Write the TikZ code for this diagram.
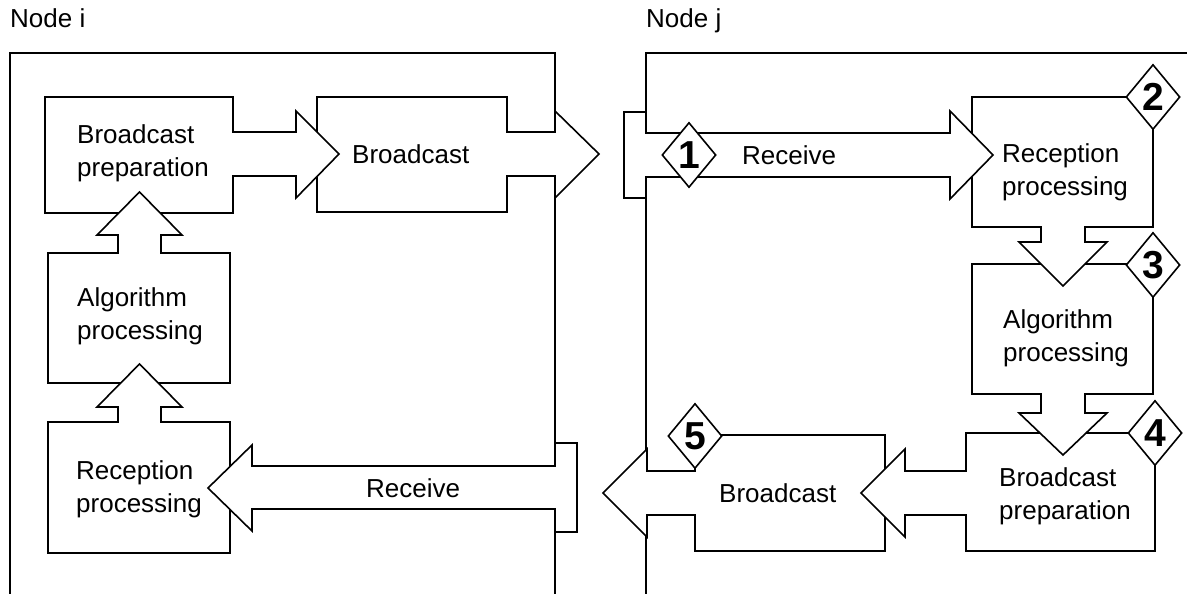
\documentclass[tikz,border=0pt]{standalone}
\usepackage{fontspec}
\setmainfont{Liberation Sans}
\usetikzlibrary{positioning,shapes.geometric}

\begin{document}
\begin{tikzpicture}[x=1pt, y=-1pt,
  frm/.style={line width=1.6pt},
  blk/.style={draw, fill=white, line width=1.6pt},
  lbl/.style={font=\fontsize{26}{33}\selectfont, align=left, inner sep=0pt, anchor=west},
  num/.style={diamond, draw, fill=white, line width=1.6pt, inner sep=0pt, minimum width=54pt, minimum height=65pt, font=\fontsize{39}{39}\selectfont\bfseries},]
\useasboundingbox (0,0) rectangle (1187,594);

%% Node i
\node[lbl, anchor=base west] (nodei) at (10,28) {Node i};
\draw[frm] (10,594) -- (10,53) -- (555,53) -- (555,594);
% broadcast
\draw[blk] (317,97) -- (507,97) -- (507,132) -- (555,132) -- (555,111) -- (599,154) -- (555,198) -- (555,176) -- (507,176) -- (507,212) -- (317,212) -- cycle;
% broadcast preparation
\draw[blk] (45,97) -- (233,97) -- (233,132) -- (296,132) -- (296,111) -- (339,154) -- (296,198) -- (296,176) -- (233,176) -- (233,213) -- (45,213) -- cycle;
% algorithm processing
\draw[blk] (48,383) -- (48,253) -- (118,253) -- (118,235) -- (97,235) -- (139.5,192) -- (182,235) -- (161,235) -- (161,253) -- (230,253) -- (230,383) -- cycle;
% reception processing
\draw[blk] (48,553) -- (48,422) -- (118,422) -- (118,407) -- (97,407) -- (139.5,364) -- (182,407) -- (161,407) -- (161,422) -- (230,422) -- (230,553) -- cycle;
% receive
\draw[blk] (577,443) -- (555,443) -- (555,466) -- (252,466) -- (252,445) -- (208,488) -- (252,531) -- (252,509) -- (555,509) -- (555,532) -- (577,532) -- cycle;

\node[lbl] (bpi)  at (77,153)  {Broadcast\\preparation};
\node[lbl] (bci)  at (352,154) {Broadcast};
\node[lbl] (algi) at (77,316)  {Algorithm\\processing};
\node[lbl] (reci) at (76,489)  {Reception\\processing};
\node[lbl] (rcvi) at (366,488) {Receive};

%% Node j
\node[lbl, anchor=base west] (nodej) at (646,28) {Node j};
\draw[frm] (646,594) -- (646,53) -- (1187,53);
% broadcast
\draw[blk] (695,435) -- (885,435) -- (885,551) -- (695,551) -- (695,515) -- (647,515) -- (647,537) -- (603,493) -- (647,449) -- (647,471) -- (695,471) -- cycle;
% broadcast preparation
\draw[blk] (966,433) -- (1155,433) -- (1155,551) -- (966,551) -- (966,515) -- (905,515) -- (905,537) -- (861,493) -- (905,449) -- (905,471) -- (966,471) -- cycle;
% algorithm processing
\draw[blk] (972,264) -- (1153,264) -- (1153,394) -- (1085,394) -- (1085,413) -- (1107,413) -- (1063,455) -- (1019,413) -- (1041,413) -- (1041,394) -- (972,394) -- cycle;
% reception processing
\draw[blk] (972,97) -- (1153,97) -- (1153,227) -- (1085,227) -- (1085,242) -- (1107,242) -- (1063,286) -- (1019,242) -- (1041,242) -- (1041,227) -- (972,227) -- cycle;
% receive
\draw[blk] (624,112) -- (646,112) -- (646,133) -- (950,133) -- (950,111) -- (993,155) -- (950,199) -- (950,177) -- (646,177) -- (646,198) -- (624,198) -- cycle;

\node[lbl] (rcvj) at (742,155)  {Receive};
\node[lbl] (recj) at (1002,172) {Reception\\processing};
\node[lbl] (algj) at (1003,338) {Algorithm\\processing};
\node[lbl] (bpj)  at (999,496)  {Broadcast\\preparation};
\node[lbl] (bcj)  at (719,493)  {Broadcast};

% steps
\node[num] (s1) at (689,155)  {1};
\node[num] (s2) at (1153,97)  {2};
\node[num] (s3) at (1153,265) {3};
\node[num] (s4) at (1155,433) {4};
\node[num] (s5) at (695,436)  {5};

\end{tikzpicture}
\end{document}
